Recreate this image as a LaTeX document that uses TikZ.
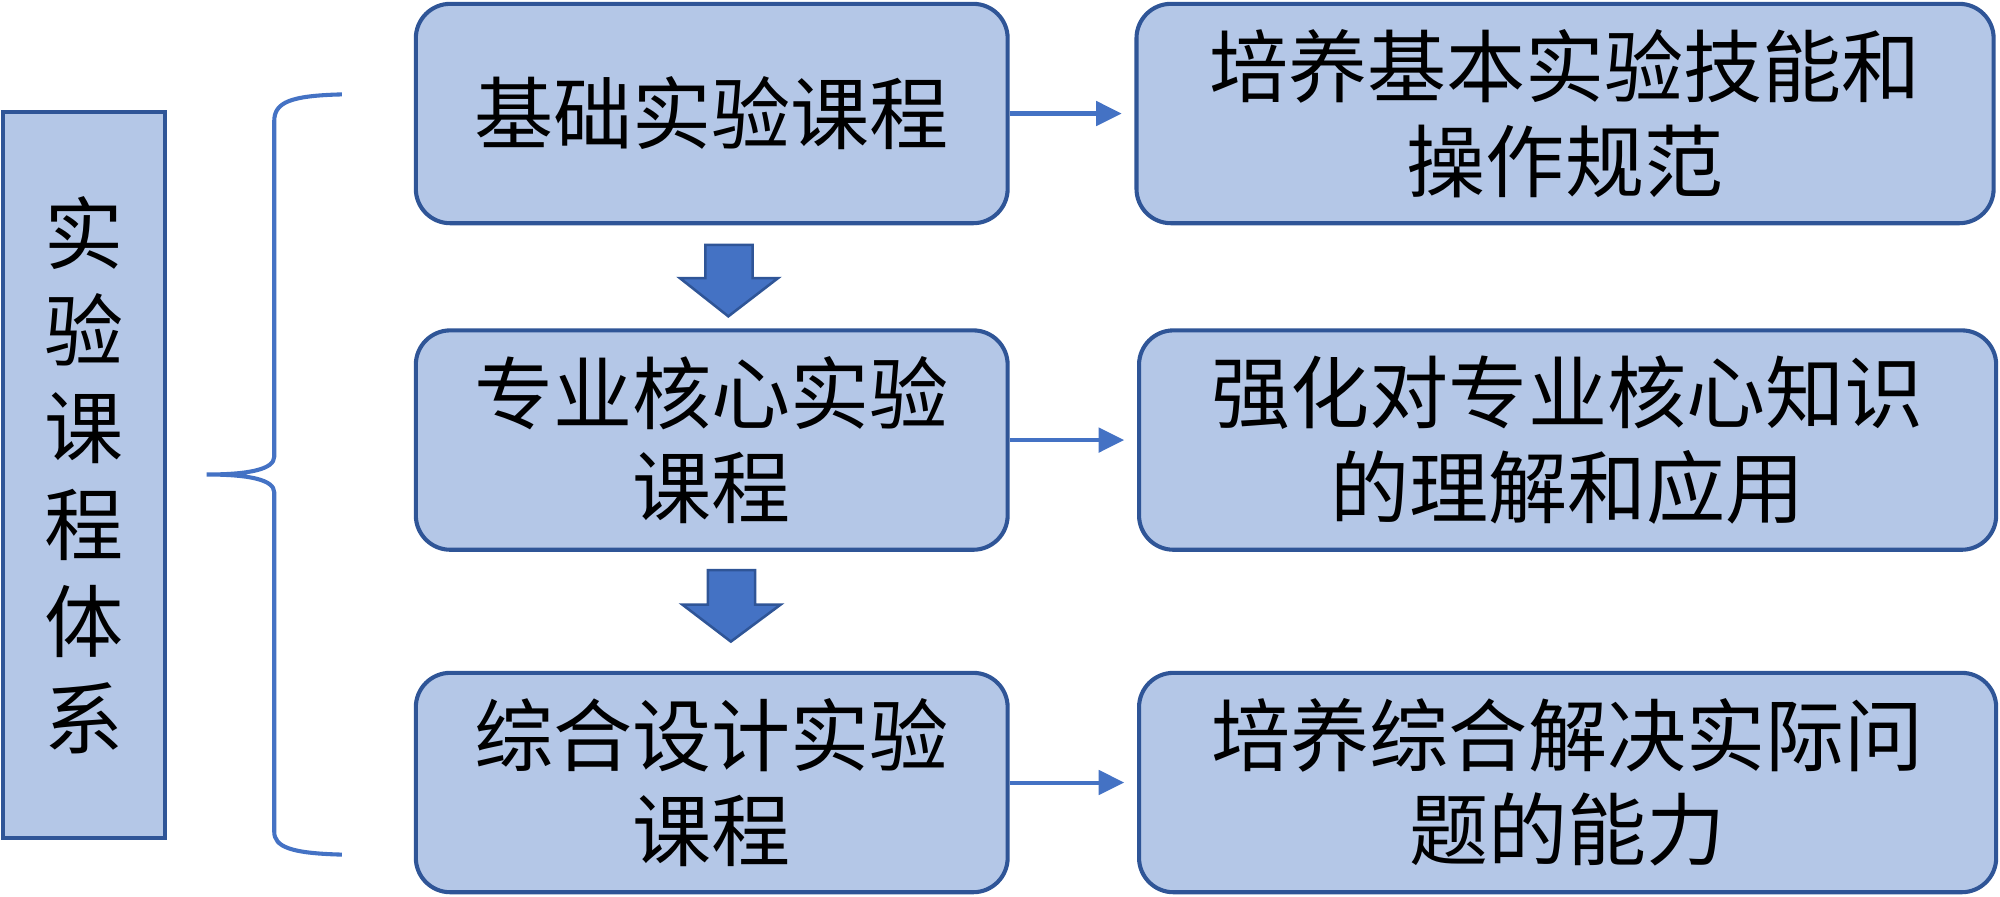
\documentclass[tikz,border=0pt]{standalone}
\usepackage{fontspec}
\setmainfont{Noto Sans CJK SC}
\usetikzlibrary{arrows.meta,calc}
\definecolor{boxfill}{HTML}{B4C7E7}
\definecolor{boxline}{HTML}{2F5597}
\definecolor{arrowc}{HTML}{4472C4}
\begin{document}
\begin{tikzpicture}[x=0.5pt,y=-0.5pt,
  box/.style={draw=boxline,fill=boxfill,line width=1.6pt,rounded corners=13.5pt,
    align=center,inner sep=0pt,font=\fontsize{31}{37}\selectfont,minimum height=86pt},
  lbox/.style={box,minimum width=232pt},
  rbox/.style={box,minimum width=336pt},
  sidebox/.style={draw=boxline,fill=boxfill,line width=1.6pt,align=center,inner sep=0pt,
    font=\fontsize{31}{38}\selectfont,minimum width=63.5pt,minimum height=284.5pt},
  link/.style={draw=arrowc,line width=1.6pt,-{Triangle[length=10pt,width=9.5pt]},shorten >=5pt},
  blockarrow/.style={fill=arrowc,draw=boxline,line width=1pt},
  bracestyle/.style={draw=arrowc,line width=1.6pt}]
\useasboundingbox (0,0) rectangle (1568,703);

\node[sidebox] (side) at (65.5,372.5) {实\\验\\课\\程\\体\\系};

\node[lbox] (l1) at (558,89) {基础实验课程};
\node[lbox] (l2) at (558,345) {专业核心实验\\课程};
\node[lbox] (l3) at (558,613.5) {综合设计实验\\课程};

\node[rbox] (r1) at (1227,89) {培养基本实验技能和\\操作规范};
\node[rbox] (r2) at (1229,345) {强化对专业核心知识\\的理解和应用};
\node[rbox] (r3) at (1229,613.5) {培养综合解决实际问\\题的能力};

\draw[link] (l1.east) -- (r1.west);
\draw[link] (l2.east) -- (r2.west);
\draw[link] (l3.east) -- (r3.west);

% block arrows
\draw[blockarrow] (553,192) -- (590,192) -- (590,218) -- (610,218) -- (571,248) -- (533,218) -- (553,218) -- cycle;
\draw[blockarrow] (555,447) -- (592,447) -- (592,474) -- (612,474) -- (573,503) -- (535,474) -- (555,474) -- cycle;

% brace
\coordinate (bt) at (268,74);
\coordinate (btip) at (162,372);
\coordinate (bb) at (268,670);
\draw[bracestyle] (bt) .. controls (228,75) and (215,80) .. (215,95) -- (215,358)
  .. controls (215,368) and (195,372) .. (btip)
  .. controls (195,372) and (215,376) .. (215,386) -- (215,652)
  .. controls (215,664) and (228,669) .. (bb);
\end{tikzpicture}
\end{document}
